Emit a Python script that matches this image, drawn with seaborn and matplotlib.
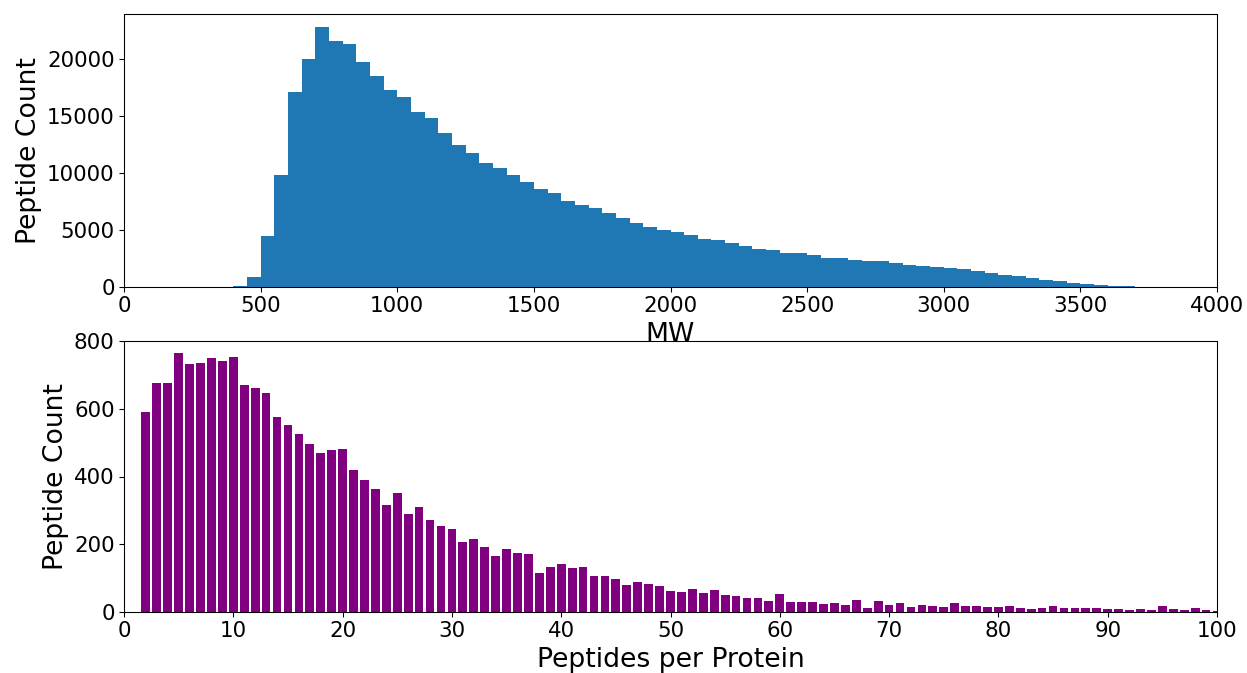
import numpy as np
import pandas as pd
import matplotlib
matplotlib.use("Agg")
import matplotlib.pyplot as plt
import seaborn as sns

# ---- Top panel: molecular weight histogram (bin width 50, 0..4000) ----
mw_bin_edges = list(range(0, 4050, 50))
mw_counts = [
    0, 0, 0, 0, 0, 0, 0, 0,
    80, 900, 4500, 9850, 17130, 20000, 22830, 21580, 21350, 19740,
    18510, 17280, 16670, 15350, 14820, 13510, 12460, 11750, 10880, 10440,
    9820, 9210, 8600, 8250, 7540, 7190, 6930, 6490, 6050, 5610,
    5260, 5000, 4820, 4560, 4210, 4120, 3860, 3600, 3330, 3250,
    2980, 2980, 2810, 2540, 2540, 2370, 2280, 2280, 2110, 1930,
    1840, 1750, 1670, 1580, 1400, 1230, 1050, 960, 790, 610,
    530, 350, 250, 200, 100, 60, 30, 20, 15, 10, 5, 3,
]

# ---- Bottom panel: peptides per protein ----
ppp_values = list(range(2, 101))
ppp_counts = [
    590, 676, 676, 764, 732, 735, 750, 741, 753,            # 2-10
    670, 661, 646, 575, 552, 525, 496, 469, 478, 481,       # 11-20
    419, 390, 363, 316, 351, 289, 310, 272, 254, 245,       # 21-30
    207, 215, 192, 165, 186, 174, 171, 115, 133, 142,       # 31-40
    130, 133, 106, 106, 97, 80, 89, 83, 77, 62,             # 41-50
    59, 68, 56, 65, 50, 47, 41, 41, 32, 53,                 # 51-60
    30, 30, 30, 24, 27, 21, 35, 12, 32, 21,                 # 61-70
    27, 15, 21, 18, 15, 27, 18, 18, 15, 15,                 # 71-80
    18, 12, 9, 12, 18, 12, 12, 12, 12, 9,                   # 81-90
    9, 6, 9, 6, 18, 9, 6, 12, 6, 4,                         # 91-100
]
ppp_ticks = list(range(0, 101, 10))

mw_centers = [(a + b) / 2 for a, b in zip(mw_bin_edges[:-1], mw_bin_edges[1:])]
df_mw = pd.DataFrame({"MW": mw_centers, "count": mw_counts})
df_ppp = pd.DataFrame({"ppp": ppp_values, "count": ppp_counts})

fig = plt.figure(figsize=(1247 / 96, 673 / 96), dpi=96)

ax1 = fig.add_axes([124 / 1247, 1 - 287 / 673, 1093 / 1247, 273 / 673])
sns.histplot(data=df_mw, x="MW", weights="count", bins=mw_bin_edges,
             color="#1f77b4", alpha=1, linewidth=0, ax=ax1)
ax1.set_xlim(0, 4000)
ax1.set_xlabel("MW", fontsize=20)
ax1.set_ylabel("Peptide Count", fontsize=20)
ax1.tick_params(labelsize=16)

ax2 = fig.add_axes([124 / 1247, 1 - 612 / 673, 1093 / 1247, 271 / 673])
sns.histplot(data=df_ppp, x="ppp", weights="count", discrete=True, shrink=0.8,
             color="#800080", alpha=1, linewidth=0, ax=ax2)
ax2.set_xlim(0, 100)
ax2.set_ylim(0, 800)
ax2.set_xticks(ppp_ticks)
ax2.set_xlabel("Peptides per Protein", fontsize=20)
ax2.set_ylabel("Peptide Count", fontsize=20)
ax2.tick_params(labelsize=16)

fig.savefig("out.png", dpi=96)
